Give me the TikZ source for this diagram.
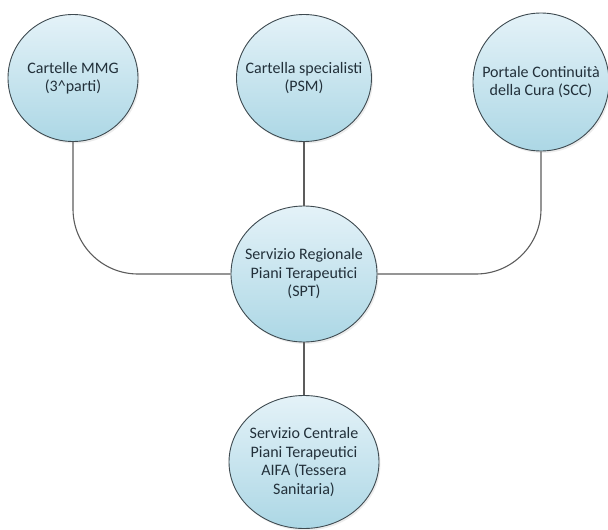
\documentclass[tikz,border=0pt]{standalone}
\usepackage{fontspec}
\setmainfont{Carlito}
\usetikzlibrary{shapes.geometric,shadows}

\definecolor{bubtop}{HTML}{E4F2F8}
\definecolor{bubbot}{HTML}{ACD7E5}
\definecolor{rimgray}{HTML}{3E4A50}
\definecolor{linkgray}{HTML}{5C5C5C}
\definecolor{txtgray}{HTML}{22303A}

\begin{document}
\begin{tikzpicture}[x=1pt, y=-1pt,
    bubble/.style 2 args={ellipse, draw=rimgray, line width=0.9pt,
      top color=bubtop, bottom color=bubbot, inner sep=0pt,
      minimum width=#1pt, minimum height=#2pt,
      drop shadow={opacity=0.15, shadow xshift=1.5pt, shadow yshift=-2pt}},
    txt/.style={align=center, text=txtgray, font=\fontsize{16}{18.5}\selectfont},
    every label/.style={txt},
    link/.style={draw=linkgray, line width=1.1pt, rounded corners=65pt}]
    \useasboundingbox (0,0) rectangle (608,530);

    \node[bubble={130}{127}, label={center:Cartelle MMG\\(3\textasciicircum parti)}] (mmg) at (73,78) {};
    \node[bubble={135}{127}, label={center:Cartella specialisti\\(PSM)}] (psm) at (304,78) {};
    \node[bubble={136}{138}, label={center:Portale Continuità\\della Cura (SCC)}] (scc) at (541,82) {};
    \node[bubble={146}{136}, label={center:Servizio Regionale\\Piani Terapeutici\\(SPT)}] (spt) at (304,274) {};
    \node[bubble={150}{133}, label={center:Servizio Centrale\\Piani Terapeutici\\AIFA (Tessera\\Sanitaria)}] (aifa) at (304,462) {};

    \draw[link] (mmg.south) |- (spt.west);
    \draw[link] (scc.south) |- (spt.east);
    \draw[link] (psm.south) -- (spt.north);
    \draw[link] (spt.south) -- (aifa.north);
\end{tikzpicture}
\end{document}
